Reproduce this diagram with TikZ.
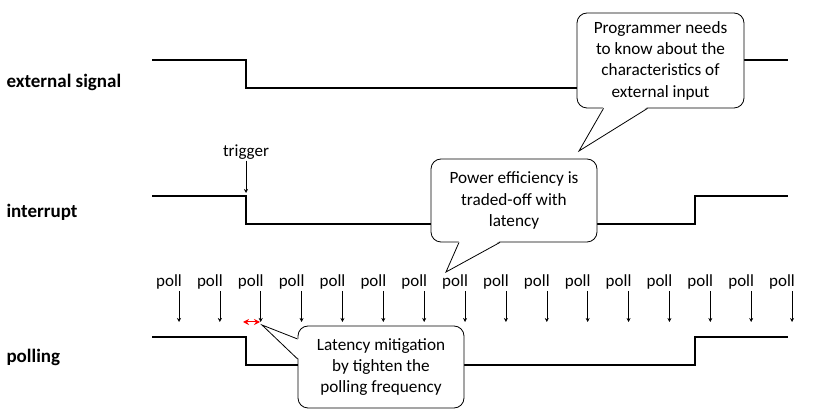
\documentclass[tikz,border=0pt]{standalone}
\usepackage{fontspec}
\setmainfont{Carlito}
\usetikzlibrary{arrows.meta,positioning}

\tikzset{
  wave/.style={line width=1.6pt},
  bubble/.style={draw, line width=0.8pt, rounded corners=10pt, fill=white, align=center,
    font=\fontsize{17.2}{21.3}\selectfont, inner sep=0pt},
  signame/.style={font=\bfseries\fontsize{19}{22}\selectfont, anchor=west},
  tick/.style={-{Stealth[length=4pt,width=4pt]}, line width=0.5pt},
  polltext/.style={font=\fontsize{17}{20}\selectfont, inner sep=1pt}
}

\begin{document}
\begin{tikzpicture}[x=1pt,y=-1pt]
\useasboundingbox (0,0) rectangle (815,411);

% signal names
\node[signame] (ext) at (3,82) {external signal};
\node[signame] (intr) at (3,212) {interrupt};
\node[signame] (pol) at (3,357) {polling};

% waveforms
\draw[wave] (152,60) -- (246,60) -- (246,88) -- (700,88) -- (700,60) -- (788,60);
\draw[wave] (152,196) -- (246,196) -- (246,224) -- (695,224) -- (695,196) -- (788,196);
\draw[wave] (152,337) -- (246,337) -- (246,365) -- (695,365) -- (695,337) -- (788,337);

% trigger
\node[polltext] (trig) at (246,152) {trigger};
\coordinate (fall) at (246,193);
\draw[tick] (trig) -- (fall);

% polls
\foreach \i in {0,...,15} {
  \pgfmathsetmacro\px{179+40.87*\i}
  \node[polltext, anchor=base] (p\i) at (\px-10,287) {poll};
  \coordinate (t\i) at (\px,322);
  \draw[tick] (p\i.south -| t\i) -- (t\i);
}

% latency
\coordinate (la) at (243,322);
\coordinate (lb) at (260,322);
\draw[red, line width=1pt, {Stealth[length=6pt,width=6pt]}-{Stealth[length=6pt,width=6pt]}] (la) -- (lb);

% call-outs
\node[bubble, minimum width=167pt, minimum height=95pt] (prog) at (660.5,60.5)
  {Programmer needs\\to know about the\\characteristics of\\external input};
\coordinate (progtip) at (579,151);
\fill[white] ([xshift=-57pt,yshift=1.5pt]prog.south) -- (progtip) -- ([xshift=-13pt,yshift=1.5pt]prog.south) -- cycle;
\draw[line width=0.8pt] ([xshift=-57pt]prog.south) -- (progtip) -- ([xshift=-13pt]prog.south);

\node[bubble, minimum width=166pt, minimum height=83pt] (pow) at (514,200.5)
  {Power efficiency is\\traded-off with\\latency};
\coordinate (powtip) at (446,272);
\fill[white] ([xshift=-55pt,yshift=1.5pt]pow.south) -- (powtip) -- ([xshift=-14pt,yshift=1.5pt]pow.south) -- cycle;
\draw[line width=0.8pt] ([xshift=-55pt]pow.south) -- (powtip) -- ([xshift=-14pt]pow.south);

\node[bubble, minimum width=166pt, minimum height=82pt] (lat) at (381,367)
  {Latency mitigation\\by tighten the\\polling frequency};
\coordinate (lattip) at (262,325);
\fill[white] ([yshift=28pt,xshift=1.5pt]lat.west) -- (lattip) -- ([yshift=8pt,xshift=1.5pt]lat.west) -- cycle;
\draw[line width=0.8pt] ([yshift=28pt]lat.west) -- (lattip) -- ([yshift=8pt]lat.west);
\end{tikzpicture}
\end{document}
